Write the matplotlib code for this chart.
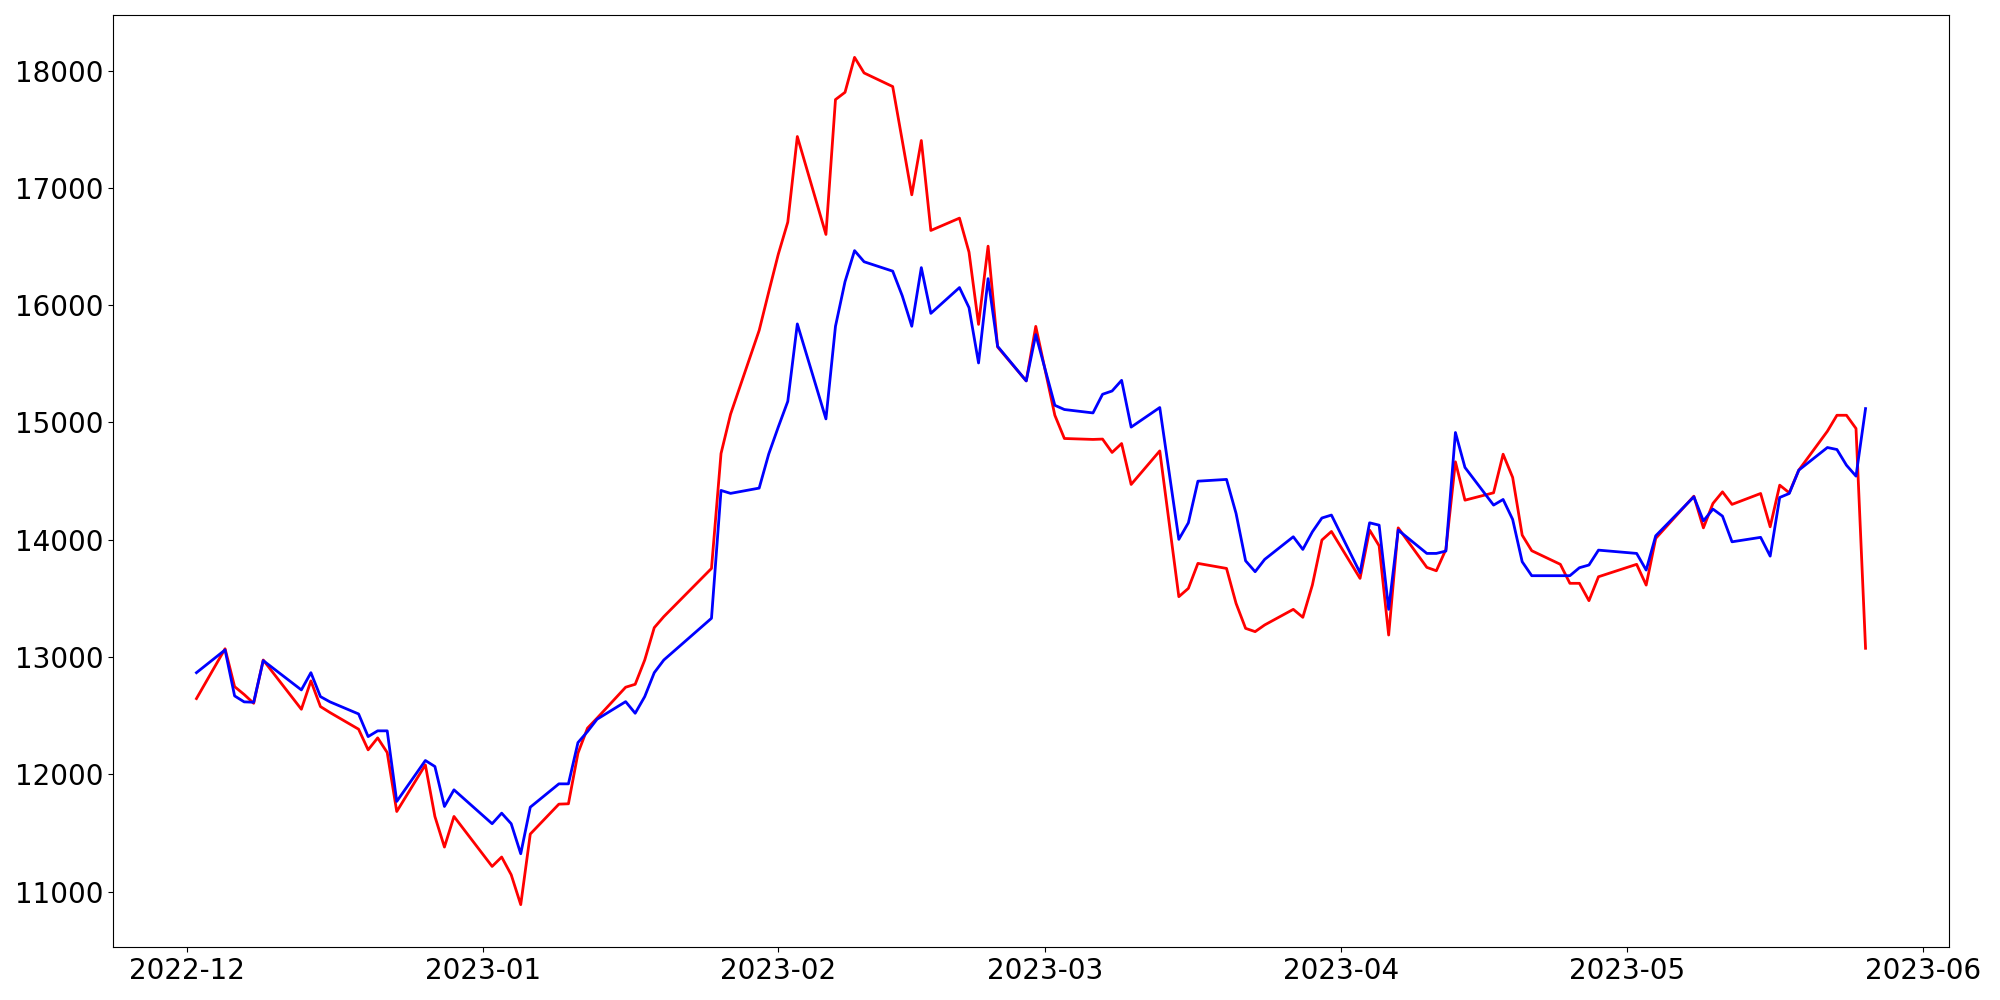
import matplotlib
matplotlib.use("Agg")
import matplotlib.pyplot as plt
import pandas as pd

# trading days (KRX calendar), minus holidays and the two days missing in the data
closed_days = ['2022-12-12', '2022-12-30', '2023-01-23', '2023-01-24',
               '2023-03-01', '2023-03-14', '2023-05-01', '2023-05-05']
dates = pd.bdate_range('2022-12-02', '2023-05-26', freq='C', holidays=closed_days)

red_vals = [
    12645, 13070, 12747, 12680, 12605, 12974, 12554, 12796, 12577, 12526,
    12384, 12208, 12310, 12185, 11682, 12080, 11640, 11379, 11640,
    11214, 11294, 11143, 10888, 11490, 11745, 11748, 12180, 12393, 12478,
    12742, 12767, 12974, 13250, 13344, 13755, 14735, 15070, 15785, 16112,
    16433, 16708, 17438, 16603, 17753, 17815, 18113, 17980, 17864, 17404,
    16941, 17404, 16637, 16742, 16452, 15836, 16503, 15643, 15354, 15819,
    15061, 14863, 14855, 14858, 14744, 14820, 14471, 14757, 13514, 13585,
    13798, 13755, 13457, 13244, 13216, 13273, 13406, 13338, 13613, 13997, 14070,
    13670, 14082, 13948, 13187, 14101, 13764, 13735, 13917, 14664, 14337,
    14400, 14729, 14531, 14039, 13906, 13790, 13628, 13628, 13480, 13684,
    13790, 13613, 14011, 14371, 14101, 14309, 14408, 14301, 14394, 14110,
    14465, 14400, 14593, 14925, 15061, 15061, 14948, 13074,
]

blue_vals = [
    12866, 13060, 12668, 12617, 12614, 12969, 12719, 12866, 12662, 12617,
    12514, 12321, 12370, 12370, 11768, 12117, 12066, 11725, 11867,
    11578, 11668, 11578, 11322, 11719, 11918, 11918, 12270, 12364, 12469,
    12619, 12520, 12662, 12866, 12974, 13330, 14420, 14395, 14440, 14730,
    14960, 15180, 15840, 15030, 15820, 16200, 16465, 16370, 16290, 16080,
    15820, 16320, 15930, 16150, 15979, 15507, 16226, 15649, 15354, 15749,
    15146, 15110, 15081, 15240, 15268, 15359, 14960, 15127, 14003, 14144,
    14499, 14514, 14224, 13820, 13727, 13832, 14025, 13917, 14067, 14185, 14210,
    13718, 14144, 14124, 13406, 14082, 13883, 13883, 13903, 14914, 14616,
    14295, 14343, 14173, 13812, 13693, 13693, 13693, 13761, 13784, 13911,
    13883, 13741, 14033, 14366, 14160, 14261, 14201, 13982, 14020, 13860,
    14360, 14394, 14593, 14786, 14769, 14635, 14542, 15118,
]

fig, ax = plt.subplots(figsize=(20, 10), dpi=100)
fig.subplots_adjust(left=0.0565, right=0.9745, bottom=0.053, top=0.985)

ax.plot(dates, red_vals, color='red', linewidth=2)
ax.plot(dates, blue_vals, color='blue', linewidth=2)

ax.tick_params(axis='both', labelsize=20)

fig.savefig('out.png')
